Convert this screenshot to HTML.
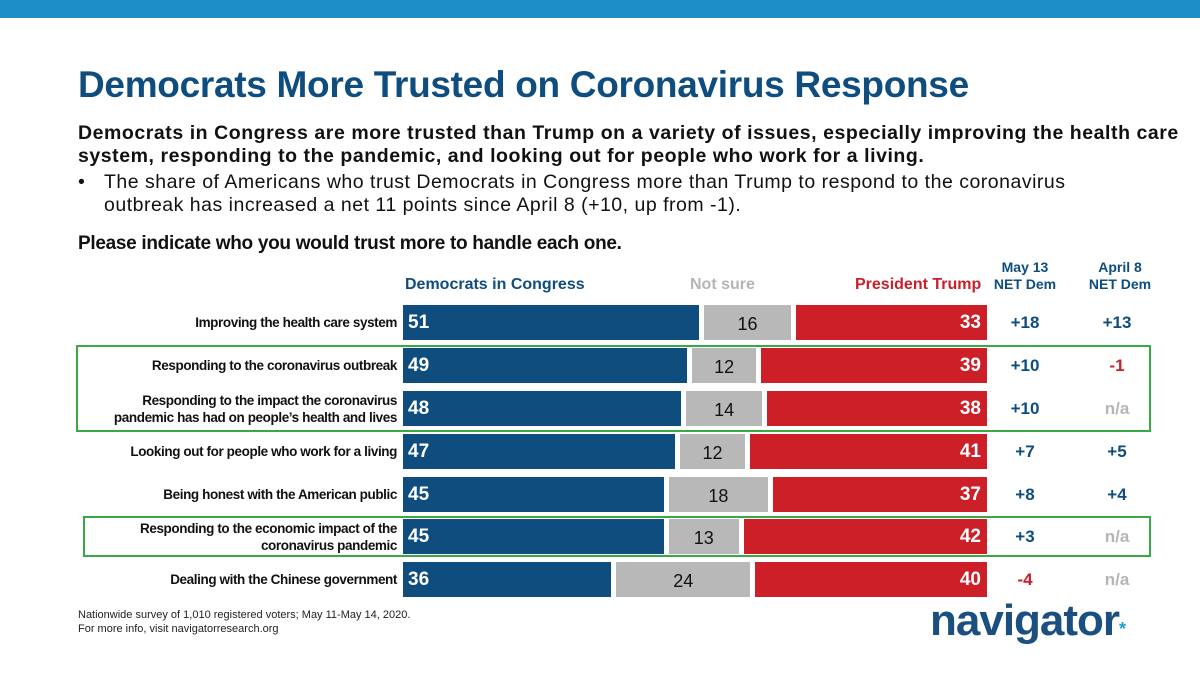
<!DOCTYPE html>
<html><head><meta charset="utf-8"><style>
body{margin:0;width:1200px;height:674px;background:#fff;font-family:"Liberation Sans",sans-serif;position:relative;overflow:hidden}
.abs{position:absolute}
.lbl{position:absolute;right:803px;text-align:right;font-size:13.5px;font-weight:bold;color:#111;line-height:17px;letter-spacing:-0.4px;white-space:nowrap}
</style></head><body>
<div class="abs" style="left:0;top:0;width:1200px;height:18px;background:#1d8ec6"></div>
<div class="abs" style="left:78px;top:64px;font-size:37px;font-weight:bold;color:#0e4d7e;letter-spacing:-0.3px">Democrats More Trusted on Coronavirus Response</div>
<div class="abs" style="left:78px;top:122px;font-size:19.5px;font-weight:bold;color:#111;line-height:23px;white-space:nowrap;letter-spacing:0.55px">Democrats in Congress are more trusted than Trump on a variety of issues, especially improving the health care<br>system, responding to the pandemic, and looking out for people who work for a living.</div>
<div class="abs" style="left:78px;top:171px;font-size:19.5px;color:#111;line-height:23px;white-space:nowrap;letter-spacing:0.5px"><span style="display:inline-block;width:26px">•</span>The share of Americans who trust Democrats in Congress more than Trump to respond to the coronavirus<br><span style="display:inline-block;width:26px"></span>outbreak has increased a net 11 points since April 8 (+10, up from -1).</div>
<div class="abs" style="left:78px;top:233px;font-size:19px;font-weight:bold;color:#111;letter-spacing:-0.3px">Please indicate who you would trust more to handle each one.</div>
<div class="abs" style="left:405px;top:276px;font-size:16px;font-weight:bold;color:#0e4d7e">Democrats in Congress</div>
<div class="abs" style="left:690px;top:276px;font-size:16px;font-weight:bold;color:#b5b5b5">Not sure</div>
<div class="abs" style="left:855px;top:276px;font-size:16px;font-weight:bold;color:#c8202a">President Trump</div>
<div class="abs" style="left:990px;top:259px;width:70px;text-align:center;font-size:14px;font-weight:bold;color:#0e4d7e;line-height:17px">May 13<br>NET Dem</div>
<div class="abs" style="left:1085px;top:259px;width:70px;text-align:center;font-size:14px;font-weight:bold;color:#0e4d7e;line-height:17px">April 8<br>NET Dem</div>
<div class="abs" style="left:76px;top:345px;width:1071px;height:83px;border:2px solid #3aa845"></div>
<div class="abs" style="left:83px;top:516px;width:1064px;height:37px;border:2px solid #3aa845"></div>
<div id="chart"></div>
<div class="abs" style="left:78px;top:608px;font-size:11px;color:#222;line-height:14px">Nationwide survey of 1,010 registered voters; May 11-May 14, 2020.<br>For more info, visit navigatorresearch.org</div>
<div class="abs" style="left:930px;top:596px;font-size:44px;font-weight:bold;color:#1a4f80;letter-spacing:-1px">navigator<span style="color:#1d9fd6;font-size:18px">*</span></div>
<script>
const categories=["Improving the health care system","Responding to the coronavirus outbreak","Responding to the impact the coronavirus<br>pandemic has had on people’s health and lives","Looking out for people who work for a living","Being honest with the American public","Responding to the economic impact of the<br>coronavirus pandemic","Dealing with the Chinese government"];
const dem=[51,49,48,47,45,45,36];
const notSure=[16,12,14,12,18,13,24];
const trump=[33,39,38,41,37,42,40];
const netMay=["+18","+10","+10","+7","+8","+3","-4"];
const netApril=["+13","-1","n/a","+5","+4","n/a","n/a"];
const rowTops=[305,348,391,434,477,519,562];
const X0=403,X1=987,H=35;
const sx=v=>v*(X1-X0)/100;
const c=document.getElementById('chart');
function add(html){const d=document.createElement('div');d.innerHTML=html;const e=d.firstChild;c.appendChild(e);return e;}
function col(v){return v.startsWith('-')?'#c8202a':(v==='n/a'?'#b5b5b5':'#0e4d7e');}
for(let i=0;i<categories.length;i++){
 const y=rowTops[i];
 const total=dem[i]+notSure[i]+trump[i];
 const wd=sx(dem[i]*100/total),wn=sx(notSure[i]*100/total),wt=sx(trump[i]*100/total);
 const two=categories[i].includes('<br>');
 let e=add(`<div class="lbl" style="top:${y+(two?1:9)}px">${categories[i]}</div>`);
 
 e=add(`<div class="abs" style="left:${X0}px;top:${y}px;width:${wd-2}px;height:${H}px;background:#0e4d7e;color:#fff;font-size:19px;font-weight:bold;line-height:${H}px;padding-left:5px;box-sizing:border-box">${dem[i]}</div>`);
 
 e=add(`<div class="abs" style="left:${X0+wd+3}px;top:${y}px;width:${wn-6}px;height:${H}px;background:#b8b8b8;color:#111;font-size:18px;line-height:${H+4}px;text-align:center">${notSure[i]}</div>`);
 
 e=add(`<div class="abs" style="left:${X1-wt+2}px;top:${y}px;width:${wt-2}px;height:${H}px;background:#cc1f27;color:#fff;font-size:19px;font-weight:bold;line-height:${H}px;text-align:right;padding-right:6px;box-sizing:border-box">${trump[i]}</div>`);
 
 e=add(`<div class="abs" style="left:990px;top:${y}px;width:70px;text-align:center;font-size:17px;font-weight:bold;line-height:${H}px;color:${col(netMay[i])}">${netMay[i]}</div>`);
 
 e=add(`<div class="abs" style="left:1082px;top:${y}px;width:70px;text-align:center;font-size:17px;font-weight:bold;line-height:${H}px;color:${col(netApril[i])}">${netApril[i]}</div>`);
 
}
</script>
</body></html>
